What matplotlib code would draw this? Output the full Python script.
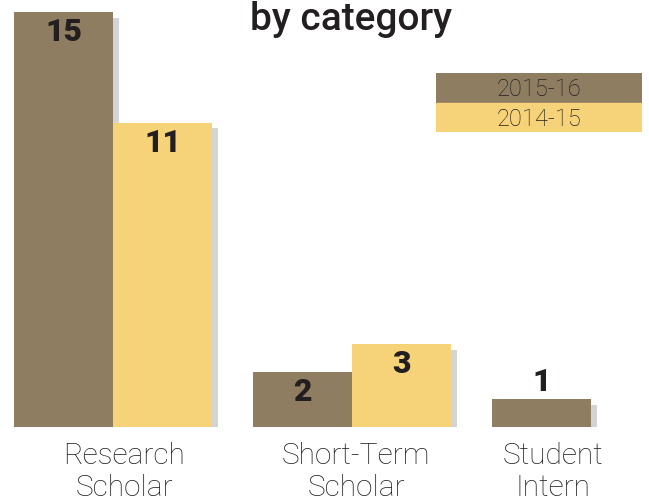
import numpy as np
import matplotlib
matplotlib.use("Agg")
import matplotlib.pyplot as plt
import matplotlib.patheffects as pe
from matplotlib.patches import Rectangle

plt.rcParams.update({"font.family": ["Roboto", "DejaVu Sans"]})

# data
categories = ["Research\nScholar", "Short-Term\nScholar", "Student\nIntern"]
series_names = ["2015-16", "2014-15"]
vals_1516 = [15, 2, 1]
vals_1415 = [11, 3, 0]

C_BROWN = "#8f7d61"
C_YELLOW = "#f6d278"
C_TEXT = "#231f20"
LABEL_X = [0.046, 1.017, 1.841]   # tick label positions (not quite centred in the original)

W, H = 649, 502
fig = plt.figure(figsize=(W / 100, H / 100), dpi=100)
ax = fig.add_axes([0, 74 / H, 1, 428 / H])

x = np.arange(len(categories))
bw = 0.414
shadow = [pe.SimplePatchShadow(offset=(4, -4), shadow_rgbFace="#666666", alpha=0.28), pe.Normal()]

b1 = ax.bar(x - bw / 2, vals_1516, bw, color=C_BROWN, zorder=2)
b2 = ax.bar(x + bw / 2, vals_1415, bw, color=C_YELLOW, zorder=3)
for b in list(b1) + list(b2):
    if b.get_height() > 0:
        b.set_path_effects(shadow)

for bars, vals in ((b1, vals_1516), (b2, vals_1415)):
    for b, v in zip(bars, vals):
        if v == 0:
            continue
        cx = b.get_x() + b.get_width() / 2
        if v >= 2:
            ax.text(cx, v - 0.15, str(v), ha="center", va="top", fontsize=23,
                    fontweight="black", color=C_TEXT, zorder=5)
        else:
            ax.text(cx, v + 0.12, str(v), ha="center", va="bottom", fontsize=23,
                    fontweight="black", color=C_TEXT, zorder=5)

ax.set_xlim(-113 / 239, (W - 113) / 239)
ax.set_ylim(0, 428 / 27.67)
ax.set_xticks(LABEL_X)
ax.set_xticklabels(categories, fontsize=21.5, fontweight="light", color=C_TEXT,
                   linespacing=1.2)
ax.tick_params(axis="x", length=0, pad=10)
ax.set_yticks([])
for s in ax.spines.values():
    s.set_visible(False)
ax.patch.set_alpha(0)

fig.text(351 / W, 1 - 1 / H, "by category", ha="center", va="top", fontsize=28,
         fontweight="medium", color=C_TEXT)

# legend drawn as two stacked colour blocks
lax = fig.add_axes([436 / W, 1 - 133 / H, (642 - 436) / W, 59 / H])
lax.set_xlim(0, 1)
lax.set_ylim(0, 2)
lax.axis("off")
for i, (name, col) in enumerate(zip(series_names, [C_BROWN, C_YELLOW])):
    y0 = 1 - i
    lax.add_patch(Rectangle((0, y0), 1, 1, color=col))
    lax.text(0.5, y0 + 0.47, name, ha="center", va="center", fontsize=17,
             fontweight="light", color=C_TEXT)

fig.savefig("out.png", dpi=100)
